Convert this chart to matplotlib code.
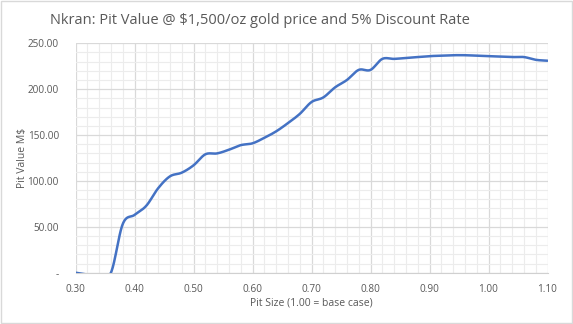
import numpy as np
import matplotlib
matplotlib.use("Agg")
import matplotlib.pyplot as plt
from matplotlib.patches import Rectangle

# pit size (1.00 = base case) and pit value in M$
pit_size = [0.30, 0.32, 0.34, 0.36, 0.38, 0.40, 0.42, 0.44, 0.46, 0.48,
            0.50, 0.52, 0.54, 0.56, 0.58, 0.60, 0.62, 0.64, 0.66, 0.68,
            0.70, 0.72, 0.74, 0.76, 0.78, 0.80, 0.82, 0.84, 0.86, 0.88,
            0.90, 0.92, 0.94, 0.96, 0.98, 1.00, 1.02, 1.04, 1.06, 1.08, 1.10]
pit_value = [0.0, -2.0, -2.0, 0.0, 53.0, 63.0, 73.0, 92.0, 105.0, 109.0,
             117.0, 129.0, 130.0, 134.0, 139.0, 141.0, 147.0, 154.0, 163.0, 173.0,
             186.0, 191.0, 202.0, 210.0, 221.0, 221.0, 233.0, 233.0, 234.0, 235.0,
             236.0, 236.5, 237.0, 237.0, 236.5, 236.0, 235.5, 235.0, 235.0, 232.0, 231.0]

x_ticks = [0.30, 0.40, 0.50, 0.60, 0.70, 0.80, 0.90, 1.00, 1.10]
y_ticks = [0, 50, 100, 150, 200, 250]

grey = '#595959'
plt.rcParams['font.family'] = ['Open Sans', 'DejaVu Sans']


def smooth(xs, ys, n=20):
    # excel-style smoothed line: bezier segments with catmull-rom handles
    p = np.column_stack([xs, ys])
    p = np.vstack([p[0], p, p[-1]])
    out = []
    t = np.linspace(0, 1, n)[:, None]
    for i in range(1, len(p) - 2):
        a, b = p[i], p[i + 1]
        c1 = a + (p[i + 1] - p[i - 1]) / 6
        c2 = b - (p[i + 2] - p[i]) / 6
        seg = (1 - t) ** 3 * a + 3 * (1 - t) ** 2 * t * c1 + 3 * (1 - t) * t ** 2 * c2 + t ** 3 * b
        out.append(seg)
    out = np.vstack(out)
    return out[:, 0], out[:, 1]


fig = plt.figure(figsize=(5.73, 3.24), dpi=100)
ax = fig.add_axes([0.1318, 0.1583, 0.8237, 0.7081])

sx, sy = smooth(pit_size, pit_value)
ax.plot(sx, sy, color='#4472C4', lw=1.8, solid_capstyle='round', zorder=3)

ax.set_xlim(0.30, 1.10)
ax.set_ylim(0, 250)
ax.set_xticks(x_ticks)
ax.set_yticks(y_ticks)
ax.set_xticks(np.arange(0.30, 1.101, 0.02), minor=True)
ax.set_yticks(np.arange(0, 251, 10), minor=True)
ax.set_xticklabels([f'{v:.2f}' for v in x_ticks])
ax.set_yticklabels(['-' if v == 0 else f'{v:.2f}' for v in y_ticks])

ax.grid(True, which='major', color='#d9d9d9', lw=0.9)
ax.grid(True, which='minor', color='#ececec', lw=0.8)
ax.set_axisbelow(True)
for s in ['top', 'right', 'left']:
    ax.spines[s].set_visible(False)
ax.spines['bottom'].set_color('#d0d0d0')
ax.tick_params(which='both', length=0, colors=grey, labelsize=7.2)
ax.tick_params(axis='x', pad=8)
ax.tick_params(axis='y', pad=12)

fig.text(0.454, 0.938, 'Nkran: Pit Value @ \\$1,500/oz gold price and 5% Discount Rate',
         ha='center', va='center', fontsize=10.5, color=grey)
fig.text(0.543, 0.066, 'Pit Size (1.00 = base case)', ha='center', va='center',
         fontsize=7.5, color=grey)
fig.text(0.040, 0.512, 'Pit Value M\\$', ha='center', va='center', rotation=90,
         fontsize=7.5, color=grey)

fig.patches.append(Rectangle((0.001, 0.002), 0.997, 0.995, transform=fig.transFigure,
                             fill=False, edgecolor='#d9d9d9', lw=1))

fig.savefig('out.png', dpi=100)
